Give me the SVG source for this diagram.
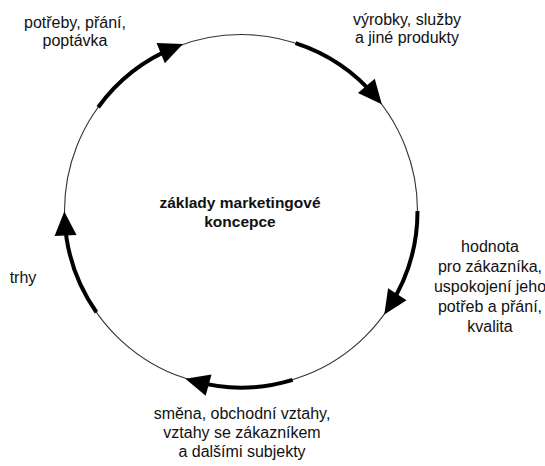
<svg xmlns="http://www.w3.org/2000/svg" width="545" height="466" viewBox="0 0 545 466">
<style>
.lbl{font-family:"Liberation Sans",Arial,sans-serif;font-size:16px;fill:#111;text-anchor:middle}
.ctr{font-family:"Liberation Sans",Arial,sans-serif;font-size:15.5px;font-weight:bold;fill:#111;text-anchor:middle}
.thin{fill:none;stroke:#333;stroke-width:1.1}
.thick{fill:none;stroke:#000;stroke-width:4;marker-end:url(#ah)}
</style>
<defs>
<marker id="ah" markerUnits="userSpaceOnUse" markerWidth="24" markerHeight="22" refX="15" refY="11" orient="auto" overflow="visible">
<path d="M0,0 L24,11 L0,22 z" fill="#000"/>
</marker>
</defs>
<rect width="545" height="466" fill="#fff"/>
<g id="connectors">
<circle class="thin" cx="241" cy="211" r="176.5"/>
<path class="thick" d="M98.21,107.26 A176.5,176.5 0 0 1 174.60,47.47"/>
<path class="thick" d="M295.54,43.14 A176.5,176.5 0 0 1 376.01,97.31"/>
<path class="thick" d="M417.5,211 A176.5,176.5 0 0 1 389.19,306.87"/>
<path class="thick" d="M292.60,379.79 A176.5,176.5 0 0 1 194.13,381.16"/>
<path class="thick" d="M96.42,312.24 A176.5,176.5 0 0 1 64.76,220.55"/>
</g>
<g id="center">
<text class="ctr" x="240" y="208">základy marketingové</text>
<text class="ctr" x="240" y="227">koncepce</text>
</g>
<g id="needs">
<text class="lbl" x="75" y="28">potřeby, přání,</text>
<text class="lbl" x="75" y="46">poptávka</text>
</g>
<g id="products">
<text class="lbl" x="407" y="25">výrobky, služby</text>
<text class="lbl" x="407" y="43">a jiné produkty</text>
</g>
<g id="value">
<text class="lbl" x="490" y="252">hodnota</text>
<text class="lbl" x="490" y="272">pro zákazníka,</text>
<text class="lbl" x="490" y="292">uspokojení jeho</text>
<text class="lbl" x="490" y="312">potřeb a přání,</text>
<text class="lbl" x="490" y="332">kvalita</text>
</g>
<g id="exchange">
<text class="lbl" x="242" y="419">směna, obchodní vztahy,</text>
<text class="lbl" x="242" y="438">vztahy se zákazníkem</text>
<text class="lbl" x="242" y="457">a dalšími subjekty</text>
</g>
<g id="markets">
<text class="lbl" x="23" y="283">trhy</text>
</g>
</svg>
